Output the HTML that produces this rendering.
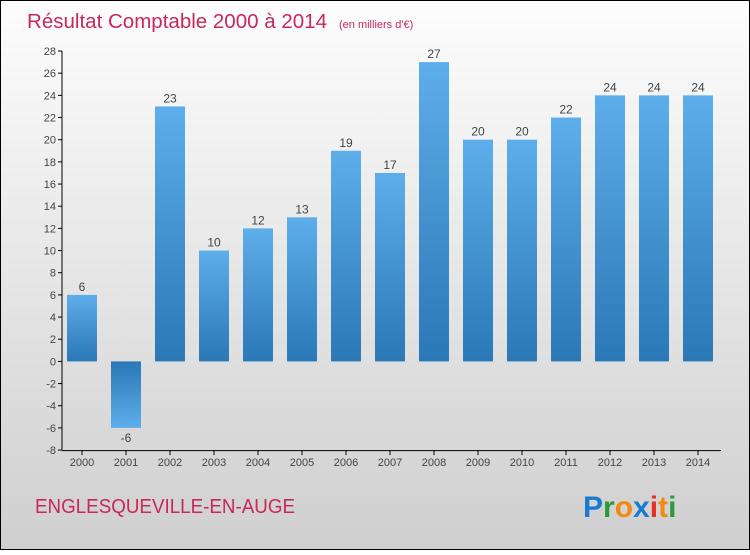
<!DOCTYPE html>
<html><head><meta charset="utf-8"><style>
body{margin:0;width:750px;height:550px;overflow:hidden;font-family:"Liberation Sans",sans-serif}
</style></head><body>
<svg width="750" height="550" xmlns="http://www.w3.org/2000/svg">
<defs>
<linearGradient id="bg" x1="0" y1="0" x2="0" y2="1"><stop offset="0" stop-color="#fdfdfd"/><stop offset="1" stop-color="#cfcfcf"/></linearGradient>
<linearGradient id="pos" x1="0" y1="0" x2="0" y2="1"><stop offset="0" stop-color="#5daeea"/><stop offset="1" stop-color="#2a78b5"/></linearGradient>
<linearGradient id="neg" x1="0" y1="0" x2="0" y2="1"><stop offset="0" stop-color="#2a78b5"/><stop offset="1" stop-color="#5daeea"/></linearGradient>
</defs>
<rect x="0.5" y="0.5" width="749" height="549" fill="url(#bg)" stroke="#000"/>
<text x="27" y="28" font-size="20" fill="#c8285a"><tspan textLength="300" lengthAdjust="spacingAndGlyphs">Résultat Comptable 2000 à 2014</tspan><tspan font-size="11" dx="12">(en milliers d'€)</tspan></text>
<g id="axes"></g>
<g id="bars"></g>
<text x="35" y="513" font-size="20" fill="#c8285a" textLength="260" lengthAdjust="spacingAndGlyphs">ENGLESQUEVILLE-EN-AUGE</text>
<g font-size="30" font-weight="bold" font-family="'Liberation Sans',sans-serif">
<text x="583" y="517"><tspan fill="#1a7ad0">P</tspan><tspan fill="#2a9a3a">r</tspan><tspan fill="#f08a10">o</tspan><tspan fill="#1a7ad0">x</tspan><tspan fill="#e83020">i</tspan><tspan fill="#f08a10">t</tspan><tspan fill="#2a9a3a">i</tspan></text>
</g>
</svg>
<script>
const years=["2000","2001","2002","2003","2004","2005","2006","2007","2008","2009","2010","2011","2012","2013","2014"];
const values=[6,-6,23,10,12,13,19,17,27,20,20,22,24,24,24];
const yTicks=[-8,-6,-4,-2,0,2,4,6,8,10,12,14,16,18,20,22,24,26,28];
const NS="http://www.w3.org/2000/svg";
const y=v=>361.4-(v)*11.085;
const x=i=>82+i*44;
function mk(t,a,p){const e=document.createElementNS(NS,t);for(const k in a)e.setAttribute(k,a[k]);p.appendChild(e);return e;}
const ax=document.getElementById('axes'),bg=document.getElementById('bars');
let l=mk('line',{x1:62,y1:y(28),x2:62,y2:y(-8),stroke:'#000'},ax);


l=mk('line',{x1:62,y1:y(-8)+0.5,x2:721,y2:y(-8)+0.5,stroke:'#000'},ax);


yTicks.forEach(v=>{
  mk('line',{x1:58,x2:62,y1:y(v),y2:y(v),stroke:'#000'},ax);
  const t=mk('text',{x:56,y:y(v)+4,'text-anchor':'end','font-size':11,fill:'#444'},ax);
  t.textContent=v;
  
  
});
years.forEach((yr,i)=>{
  mk('line',{x1:x(i),x2:x(i),y1:y(-8),y2:y(-8)+5,stroke:'#000'},ax);
  const t=mk('text',{x:x(i),y:y(-8)+16,'text-anchor':'middle','font-size':11,fill:'#444'},ax);
  t.textContent=yr;
  
  
  const v=values[i];
  const top=Math.min(y(v),y(0)),h=Math.abs(y(v)-y(0));
  const r=mk('rect',{x:x(i)-15,y:top,width:30,height:h,fill:v>=0?'url(#pos)':'url(#neg)'},bg);
  
  
  const lb=mk('text',{x:x(i),y:v>=0?y(v)-4:y(v)+14,'text-anchor':'middle','font-size':12,fill:'#444'},bg);
  lb.textContent=v;
  
  
});
</script>
</body></html>
